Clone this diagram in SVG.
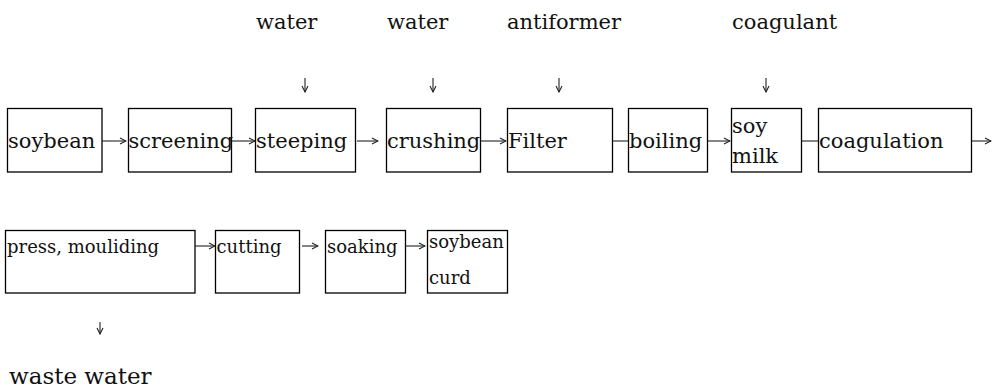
<svg xmlns="http://www.w3.org/2000/svg" width="993" height="390" viewBox="0 0 993 390">
<style>
.box{fill:#fff;stroke:#000;stroke-width:1.3}
.t{font-family:"DejaVu Serif","Liberation Serif",serif;font-size:21px;fill:#111}
.s{font-size:18px}
.c{stroke:#222;stroke-width:1.1;fill:none}
.a{stroke:#222;stroke-width:1.1;fill:none;marker-end:url(#ah)}
</style>
<defs>
<marker id="ah" viewBox="0 0 8 8" refX="7" refY="4" markerWidth="8" markerHeight="8" markerUnits="userSpaceOnUse" orient="auto">
<path d="M1,1 L7,4 L1,7" fill="none" stroke="#222" stroke-width="1.1"/>
</marker>
</defs>
<rect width="993" height="390" fill="#fff"/>
<g id="labels">
<text class="t" x="256" y="29" font-size="20">water</text>
<text class="t" x="387" y="29" font-size="20">water</text>
<text class="t" x="507" y="29">antiformer</text>
<text class="t" x="732" y="29">coagulant</text>
<text class="t" x="9" y="384" style="font-size:23px">waste water</text>
</g>
<g id="n-soybean"><rect class="box" x="7.5" y="108.5" width="94.5" height="63.5"/><text class="t" x="8" y="148">soybean</text></g>
<g id="n-screening"><rect class="box" x="128.5" y="108.5" width="103" height="63.5"/><text class="t" x="128.5" y="148">screening</text></g>
<g id="n-steeping"><rect class="box" x="255.5" y="108.5" width="100" height="63.5"/><text class="t" x="256" y="148">steeping</text></g>
<g id="n-crushing"><rect class="box" x="386.5" y="108.5" width="94" height="63.5"/><text class="t" x="387" y="148">crushing</text></g>
<g id="n-filter"><rect class="box" x="507.5" y="108.5" width="105" height="63.5"/><text class="t" x="508" y="148">Filter</text></g>
<g id="n-boiling"><rect class="box" x="628.5" y="108.5" width="79" height="63.5"/><text class="t" x="629" y="148">boiling</text></g>
<g id="n-soymilk"><rect class="box" x="731.5" y="108.5" width="70" height="63.5"/><text class="t" x="732" y="133">soy</text><text class="t" x="732" y="163">milk</text></g>
<g id="n-coagulation"><rect class="box" x="818.5" y="108.5" width="153" height="63.5"/><text class="t" x="819" y="148">coagulation</text></g>
<g id="n-press"><rect class="box" x="5.5" y="230.5" width="189.5" height="62.5"/><text class="t s" x="7" y="253">press, mouliding</text></g>
<g id="n-cutting"><rect class="box" x="215.5" y="230.5" width="84" height="62.5"/><text class="t s" x="216.5" y="253">cutting</text></g>
<g id="n-soaking"><rect class="box" x="325.5" y="230.5" width="80" height="62.5"/><text class="t s" x="327" y="253">soaking</text></g>
<g id="n-curd"><rect class="box" x="427.5" y="230.5" width="80" height="62.5"/><text class="t s" x="429" y="248">soybean</text><text class="t s" x="429" y="284">curd</text></g>
<g id="connectors">
<line class="a" x1="102" y1="141" x2="126" y2="141"/>
<line class="a" x1="232" y1="141" x2="255" y2="141"/>
<line class="a" x1="357" y1="141" x2="378" y2="141"/>
<line class="a" x1="481" y1="141" x2="506" y2="141"/>
<line class="c" x1="613" y1="141" x2="628" y2="141"/>
<line class="a" x1="708" y1="141" x2="730" y2="141"/>
<line class="c" x1="802" y1="141" x2="818" y2="141"/>
<line class="a" x1="972" y1="141" x2="991" y2="141"/>
<line class="a" x1="195" y1="246" x2="215" y2="246"/>
<line class="a" x1="302" y1="246" x2="318" y2="246"/>
<line class="a" x1="405" y1="246" x2="425" y2="246"/>
<line class="a" x1="305" y1="78" x2="305" y2="92"/>
<line class="a" x1="433" y1="78" x2="433" y2="92"/>
<line class="a" x1="559" y1="78" x2="559" y2="92"/>
<line class="a" x1="766" y1="78" x2="766" y2="92"/>
<line class="a" x1="100" y1="322" x2="100" y2="334"/>
</g>
</svg>
